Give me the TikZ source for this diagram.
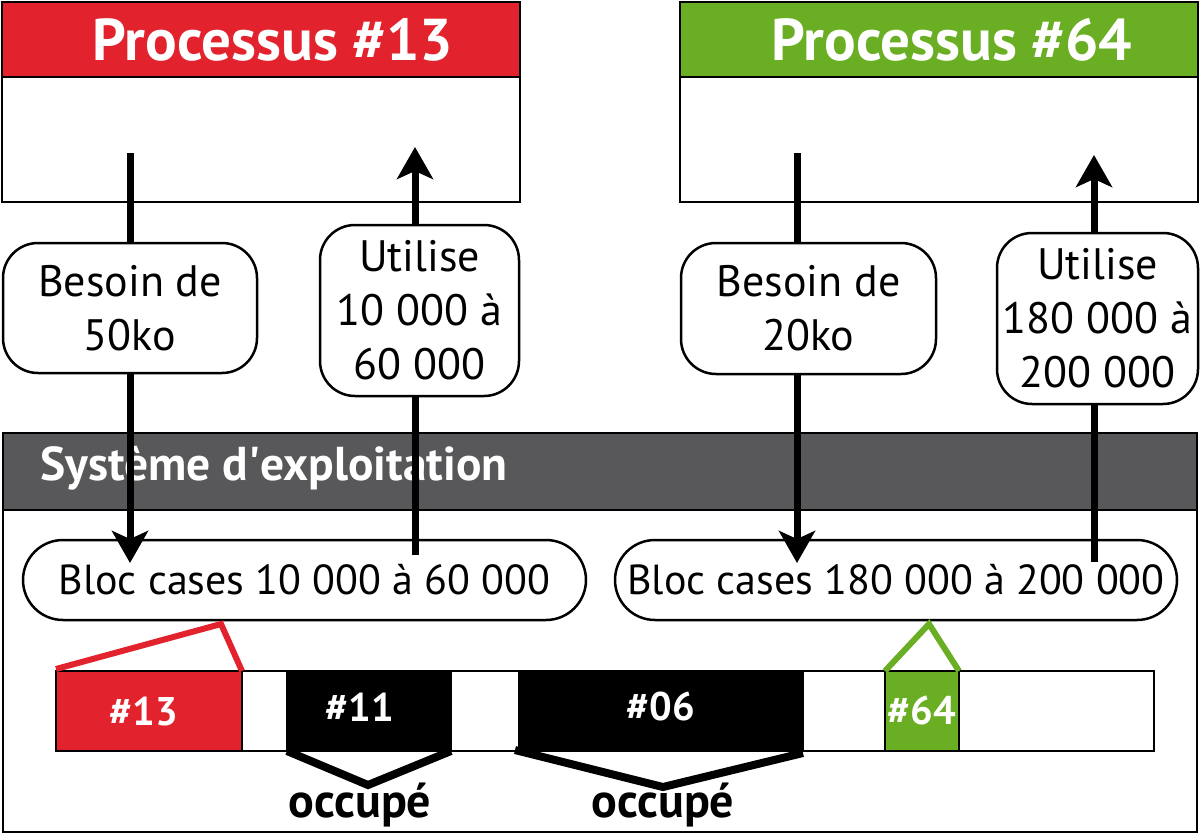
\documentclass[tikz,border=0pt]{standalone}
\usepackage{fontspec}
\setmainfont{PT Sans}
\usetikzlibrary{arrows.meta}
\definecolor{procred}{RGB}{226,35,46}
\definecolor{procgreen}{RGB}{106,174,35}
\definecolor{osgray}{RGB}{88,88,90}
\begin{document}
\begin{tikzpicture}[x=1pt,y=-1pt,
  frame/.style={draw=black, line width=2.5pt, inner sep=0pt, outer sep=0pt},
  head/.style={frame, minimum width=518pt, minimum height=75pt},
  body/.style={frame, fill=white, minimum width=518pt, minimum height=125pt},
  title/.style={inner sep=0pt, text=white, font=\bfseries\fontsize{59}{64}\selectfont},
  label/.style={frame, fill=white, rounded corners=35pt, align=center,
     font=\fontsize{44}{54}\selectfont},
  bloc/.style={frame, fill=white, rounded corners=40pt, minimum height=80pt,
     font=\fontsize{42}{48}\selectfont},
  cell/.style={frame, minimum height=80pt, text=white,
     font=\bfseries\fontsize{40}{48}\selectfont},
  arr/.style={line width=7pt, -{Stealth[length=32pt,width=36pt,inset=8pt]}},
  bracket/.style={line width=8pt, line join=miter},
  occ/.style={inner sep=0pt, font=\bfseries\fontsize{48}{52}\selectfont}
]
\useasboundingbox (0,0) rectangle (1200,835);

% processes
\node[head, fill=procred] (p13h) at (261,39.5) {};
\node[body] (p13b) at (261,139.5) {};
\node[title] (p13t) at (273,40) {Processus \#13};
\node[head, fill=procgreen] (p64h) at (939,39.5) {};
\node[body] (p64b) at (939,139.5) {};
\node[title] (p64t) at (952,40) {Processus \#64};

% operating system
\node[frame, fill=white, minimum width=1194pt, minimum height=399pt] (os) at (600,632.5) {};
\node[frame, fill=osgray, minimum width=1194pt, minimum height=77pt] (osh) at (600,471.5) {};
\node[inner sep=0pt, anchor=base west, text=white, font=\bfseries\fontsize{47.5}{52}\selectfont] (ost) at (40,480) {Système d\textquotesingle exploitation};

% blocks
\node[bloc, minimum width=563pt] (bloc13) at (304.5,580) {Bloc cases 10 000 à 60 000};
\node[bloc, minimum width=562pt] (bloc64) at (896,580) {Bloc cases 180 000 à 200 000};

% memory bar
\node[frame, fill=white, minimum width=1098pt, minimum height=80pt] (mem) at (605,711) {};
\node[cell, fill=procred, minimum width=186pt] (m13) at (149,711) {};
\node[cell, fill=black, minimum width=164pt] (m11) at (369,711) {};
\node[cell, fill=black, minimum width=284pt] (m06) at (661,711) {};
\node[cell, fill=procgreen, minimum width=74pt] (m64) at (922,711) {};
\node[cell, draw=none, inner sep=0pt, anchor=base, minimum height=0pt] (t13) at (144,725) {\#13};
\node[cell, draw=none, inner sep=0pt, anchor=base, minimum height=0pt] (t11) at (360,721) {\#11};
\node[cell, draw=none, inner sep=0pt, anchor=base, minimum height=0pt] (t06) at (661,720) {\#06};
\node[cell, draw=none, inner sep=0pt, anchor=base, minimum height=0pt] (t64) at (922,724) {\#64};

% zoom markers
\coordinate (r1) at (56,669); \coordinate (r2) at (221,624); \coordinate (r3) at (242,671);
\draw[procred, line width=6pt, line join=miter] (r1) -- (r2) -- (r3);
\coordinate (g1) at (885,671); \coordinate (g2) at (929,624); \coordinate (g3) at (959,671);
\draw[procgreen, line width=6pt, line join=miter] (g1) -- (g2) -- (g3);

% occupied brackets
\coordinate (a1) at (287,751); \coordinate (a2) at (368,785); \coordinate (a3) at (451,751);
\draw[bracket] (a1) -- (a2) -- (a3);
\coordinate (b1) at (515,750); \coordinate (b2) at (663,787); \coordinate (b3) at (803,753);
\draw[bracket] (b1) -- (b2) -- (b3);
\node[occ, anchor=base] (o1) at (360,817) {occupé};
\node[occ, anchor=base] (o2) at (663,817) {occupé};

% arrows
\coordinate (s13) at (130,153); \coordinate (e13) at (130,563);
\draw[arr] (s13) -- (e13);
\coordinate (u13s) at (415,555); \coordinate (u13e) at (415,147);
\draw[arr] (u13s) -- (u13e);
\coordinate (s64) at (797,153); \coordinate (e64) at (797,563);
\draw[arr] (s64) -- (e64);
\coordinate (u64s) at (1094,562); \coordinate (u64e) at (1094,155);
\draw[arr] (u64s) -- (u64e);

% labels
\node[label, minimum width=254pt, minimum height=130pt] (need13) at (130,308) {Besoin de\\50ko};
\node[label, minimum width=199pt, minimum height=171pt] (use13) at (419.5,310.5) {Utilise\\10 000 à\\60 000};
\node[label, minimum width=255pt, minimum height=131pt] (need64) at (808.5,308.5) {Besoin de\\20ko};
\node[label, minimum width=201pt, minimum height=171pt] (use64) at (1097.5,318.5) {Utilise\\180 000 à\\200 000};
\end{tikzpicture}
\end{document}
